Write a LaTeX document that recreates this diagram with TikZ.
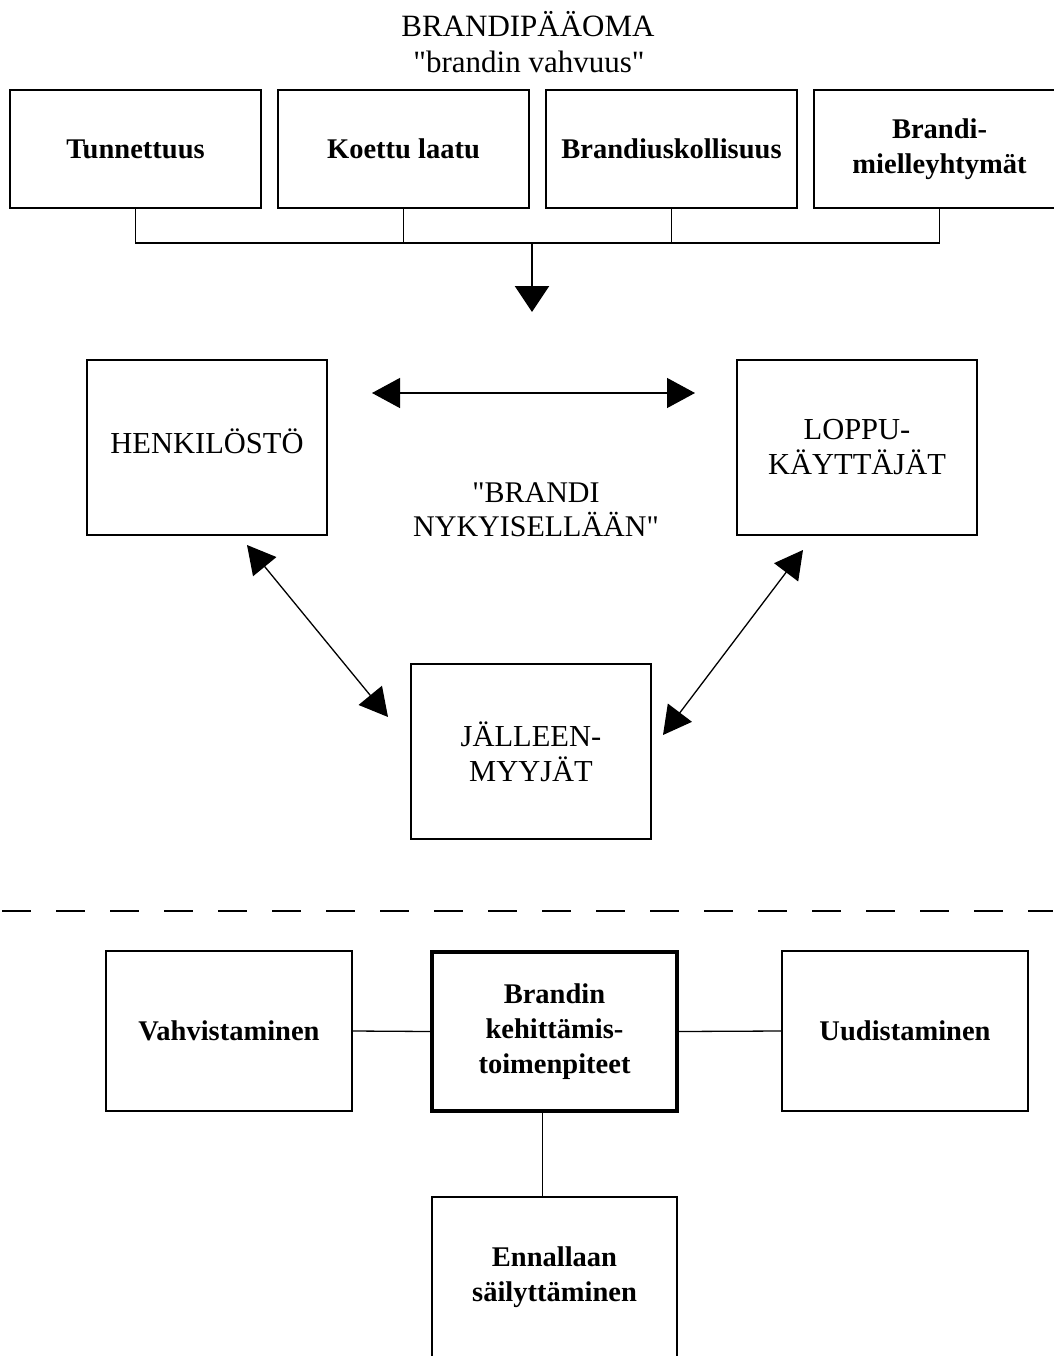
\documentclass[tikz,border=0pt]{standalone}
\usepackage{fontspec}
\setmainfont{Liberation Serif}[Ligatures=TeXOff]
\usetikzlibrary{arrows.meta}
\tikzset{
  box/.style={draw, line width=1.8pt, rectangle, inner sep=0pt, align=center,
    font=\bfseries\fontsize{28.5}{35}\selectfont},
  midbox/.style={draw, line width=1.8pt, rectangle, inner sep=0pt, align=center,
    minimum width=240pt, minimum height=175pt,
    font=\fontsize{30.5}{35}\selectfont},
  topbox/.style={box, minimum width=251pt, minimum height=118pt},
  lowbox/.style={box, minimum width=246pt, minimum height=160pt},
  conn/.style={line width=1.3pt},
  biarrow/.style={line width=1.3pt, {Triangle[length=28pt,width=30pt]}-{Triangle[length=28pt,width=30pt]}},
  downarrow/.style={line width=2.6pt, -{Triangle[length=26pt,width=34pt]}},
  plain/.style={inner sep=0pt, align=center, font=\fontsize{31}{38}\selectfont}
}
\begin{document}
\begin{tikzpicture}[x=1pt, y=-1pt]
\fill[white] (0,0) rectangle (1053,1356);
\useasboundingbox (0,0) rectangle (1053,1356);

% title
\node[plain] (title) at (528,24) {BRANDIPÄÄOMA};
\node[plain] (sub) at (529,62) {"brandin vahvuus"};

% top boxes
\node[topbox] (b1) at (135.5,149) {Tunnettuus};
\node[topbox] (b2) at (403.5,149) {Koettu laatu};
\node[topbox] (b3) at (671.5,149) {Brandiuskollisuus};
\node[topbox] (b4) at (939.5,149) {Brandi-\\mielleyhtymät};

\coordinate (bus) at (532,243);
\coordinate (down) at (532,312);
\draw[conn] (b1.south) |- (bus) -| (b4.south);
\draw[conn] (b2.south) -- (b2.south |- bus);
\draw[conn] (b3.south) -- (b3.south |- bus);
\draw[downarrow] (bus) -- (down);

% middle
\node[midbox] (henk) at (207,447.5) {\raisebox{6pt}[\height][\depth]{HENKILÖSTÖ}};
\node[midbox] (loppu) at (857,447.5) {LOPPU-\\KÄYTTÄJÄT};
\node[midbox] (jall) at (531,751.5) {JÄLLEEN-\\MYYJÄT};
\node[plain, font=\fontsize{30}{34}\selectfont] (nyky) at (536,510) {"BRANDI\\NYKYISELLÄÄN"};

\coordinate (hL) at (372,393);
\coordinate (hR) at (695,393);
\draw[biarrow] (hL) -- (hR);
\coordinate (dA) at (247,545);
\coordinate (dB) at (388,717);
\draw[biarrow] (dA) -- (dB);
\coordinate (dC) at (803,550);
\coordinate (dD) at (663,735);
\draw[biarrow] (dC) -- (dD);

% dashed separator
\coordinate (sepL) at (2,911);
\coordinate (sepR) at (1053,911);
\draw[line width=2pt, dash pattern=on 29pt off 25pt] (sepL) -- (sepR);

% bottom
\node[lowbox] (vahv) at (229,1031) {Vahvistaminen};
\node[lowbox, line width=4pt, minimum width=245pt, minimum height=159pt] (kehit) at (554.5,1031.5) {Brandin\\kehittämis-\\toimenpiteet};
\node[lowbox] (uud) at (905,1031) {Uudistaminen};
\node[lowbox, minimum width=245pt] (enn) at (554.5,1277) {Ennallaan\\säilyttäminen};

\draw[conn] (vahv.east) -- (kehit.west);
\draw[conn] (kehit.east) -- (uud.west);
\draw[conn] ([xshift=-12pt]kehit.south) -- ([xshift=-12pt]enn.north);
\end{tikzpicture}
\end{document}
